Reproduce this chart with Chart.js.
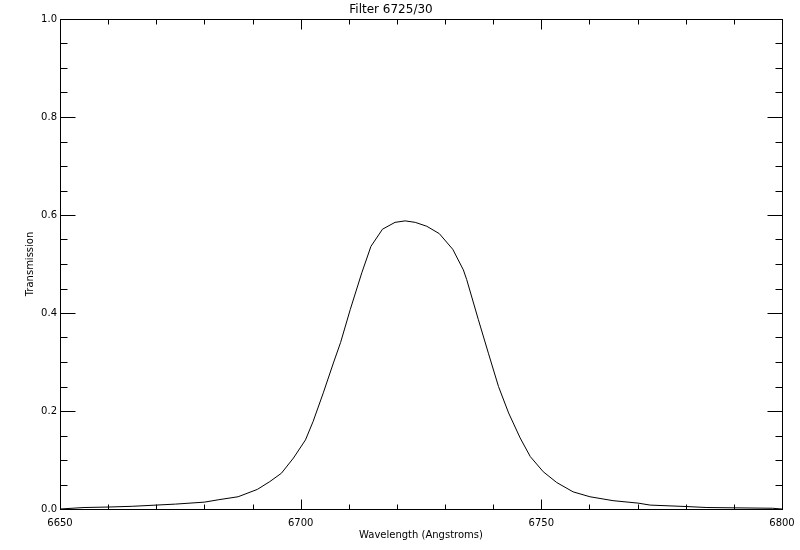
<!DOCTYPE html>
<html>
<head>
<meta charset="utf-8">
<title>Filter 6725/30</title>
<script src="https://cdn.jsdelivr.net/npm/chart.js@4.4.1/dist/chart.umd.min.js"></script>
<style>
  html, body { margin: 0; padding: 0; background: #fff; }
  canvas { display: block; }
</style>
</head>
<body>
<canvas id="filterChart" width="800" height="550"></canvas>
<script>
// Datos
const chartTitle = 'Filter 6725/30';
const xTitle = 'Wavelength (Angstroms)';
const yTitle = 'Transmission';

const wavelength = [
    6650, 6655, 6660, 6665, 6670, 6674, 6680, 6683, 6687, 6691,
    6693.6, 6696, 6698.5, 6701, 6702.6, 6704.7, 6706.8, 6708.3, 6710.3, 6712.7,
    6714.6, 6717, 6719.6, 6721.7, 6723.8, 6726.2, 6728.8, 6731.6, 6733.8, 6734.5,
    6736.9, 6739, 6741.1, 6743.2, 6745.6, 6747.7, 6750.4, 6753.2, 6756.6,
    6760.1, 6764.9, 6770.1, 6772.6, 6780.2, 6784.4, 6798, 6800
];
const transmission = [
    0.000, 0.003, 0.004, 0.0055, 0.008, 0.010, 0.014, 0.019, 0.025, 0.040,
    0.056, 0.073, 0.104, 0.141, 0.179, 0.237, 0.298, 0.340, 0.407, 0.482,
    0.536, 0.571, 0.585, 0.588, 0.585, 0.577, 0.562, 0.530, 0.488, 0.468,
    0.387, 0.318, 0.250, 0.196, 0.145, 0.107, 0.076, 0.054, 0.035,
    0.025, 0.017, 0.012, 0.008, 0.005, 0.003, 0.0015, 0.000
];

const xMin = 6650, xMax = 6800, xStep = 50;
const yMin = 0, yMax = 1, yStep = 0.2;

const points = wavelength.map((w, i) => ({ x: w, y: transmission[i] }));

// Marco y marcas hacia dentro, estilo IDL
const frameTicks = {
    id: 'frameTicks',
    afterDraw(chart) {
        const { ctx, chartArea: a, scales: { x, y } } = chart;
        const L = Math.round(a.left) + 0.5;
        const R = Math.round(a.right) + 0.5;
        const T = Math.round(a.top) + 0.5;
        const B = Math.round(a.bottom) + 0.5;
        ctx.save();
        ctx.strokeStyle = '#000';
        ctx.lineWidth = 1;
        ctx.strokeRect(L, T, R - L, B - T);
        ctx.beginPath();
        // eje x: 5 subdivisiones por marca mayor
        const xMinor = xStep / 5;
        for (let i = 0; i <= Math.round((x.max - x.min) / xMinor); i++) {
            const v = x.min + i * xMinor;
            const px = Math.round(x.getPixelForValue(v)) + 0.5;
            const len = i % 5 === 0 ? 10 : 5;
            ctx.moveTo(px, B); ctx.lineTo(px, B - len);
            ctx.moveTo(px, T); ctx.lineTo(px, T + len);
        }
        // eje y: 4 subdivisiones por marca mayor
        const yMinor = yStep / 4;
        for (let i = 0; i <= Math.round((y.max - y.min) / yMinor); i++) {
            const v = y.min + i * yMinor;
            const py = Math.round(y.getPixelForValue(v)) + 0.5;
            const len = i % 4 === 0 ? 15 : 7;
            ctx.moveTo(L, py); ctx.lineTo(L + len, py);
            ctx.moveTo(R, py); ctx.lineTo(R - len, py);
        }
        ctx.stroke();
        ctx.restore();
    }
};

const ctx = document.getElementById('filterChart').getContext('2d');
const filterChart = new Chart(ctx, {
    type: 'line',
    data: {
        datasets: [{
            label: yTitle,
            data: points,
            borderColor: '#000',
            borderWidth: 1,
            pointRadius: 0,
            tension: 0,
            fill: false
        }]
    },
    options: {
        responsive: false,
        animation: false,
        devicePixelRatio: 1,
        layout: {
            padding: { left: 0, right: 18, top: 0, bottom: 0 }
        },
        scales: {
            x: {
                type: 'linear',
                min: xMin,
                max: xMax,
                afterFit: (s) => {
                    s.height = 41;
                    s.paddingLeft = 0;
                    s.paddingRight = 0;
                },
                grid: { display: false, drawTicks: false },
                border: { display: false },
                ticks: {
                    stepSize: xStep,
                    maxRotation: 0,
                    padding: 8,
                    color: '#000',
                    font: { family: 'DejaVu Sans', size: 10 },
                    callback: (v) => String(v)
                },
                title: {
                    display: true,
                    text: xTitle,
                    color: '#000',
                    font: { family: 'DejaVu Sans', size: 10 },
                    padding: { top: 0, bottom: 9 }
                }
            },
            y: {
                min: yMin,
                max: yMax,
                afterFit: (s) => { s.width = 60; },
                grid: { display: false, drawTicks: false },
                border: { display: false },
                ticks: {
                    stepSize: yStep,
                    padding: 3,
                    color: '#000',
                    font: { family: 'DejaVu Sans', size: 10 },
                    callback: (v) => Number(v).toFixed(1)
                },
                title: {
                    display: true,
                    text: yTitle,
                    color: '#000',
                    font: { family: 'DejaVu Sans', size: 10 },
                    padding: { top: 24, bottom: 0 }
                }
            }
        },
        plugins: {
            legend: { display: false },
            tooltip: { enabled: false },
            title: {
                display: true,
                text: chartTitle,
                color: '#000',
                font: { family: 'DejaVu Sans', size: 12, weight: 'normal' },
                padding: { top: 3, bottom: 1.6 }
            }
        }
    },
    plugins: [frameTicks]
});

window.filterChart = filterChart;
</script>
</body>
</html>
